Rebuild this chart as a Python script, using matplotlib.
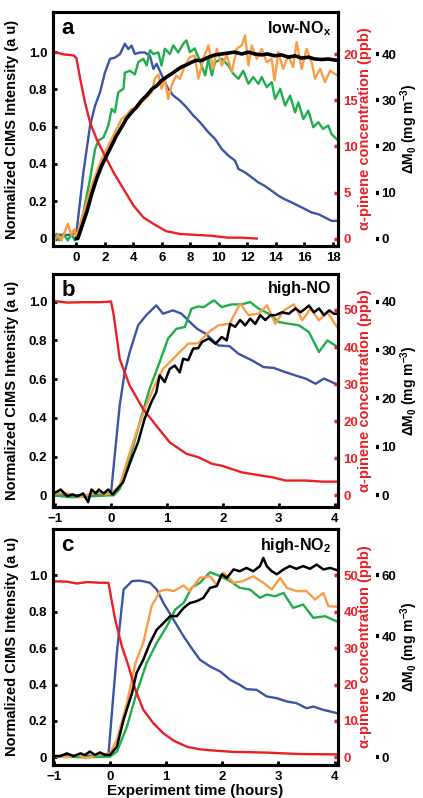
import matplotlib
matplotlib.use("Agg")
import matplotlib.pyplot as plt

plt.rcParams['font.family'] = ['Liberation Sans', 'DejaVu Sans']
plt.rcParams['font.weight'] = 'bold'
plt.rcParams['axes.labelweight'] = 'bold'
plt.rcParams['mathtext.fontset'] = 'custom'
plt.rcParams['mathtext.rm'] = 'Liberation Sans:bold'
plt.rcParams['mathtext.bf'] = 'Liberation Sans:bold'
plt.rcParams['mathtext.it'] = 'Liberation Sans:bold'
plt.rcParams['mathtext.default'] = 'rm'

BLUE = '#3b54a3'
GREEN = '#1fae4b'
ORANGE = '#f99d46'
RED = '#ec2024'

# ---- panel a: low-NOx (time in hours) ----
a_red_t = [-1.6, -0.9, -0.2, 0.0, 0.26, 0.6, 0.96, 1.42, 2.0, 2.6, 3.3, 4.0, 4.7, 5.4, 6.3, 7.26, 8.4, 9.5, 10.6, 11.6, 12.65]
a_red = [20.3, 20.0, 19.9, 19.6, 17.4, 14.8, 12.6, 10.8, 9.0, 7.2, 5.4, 3.6, 2.3, 1.6, 0.8, 0.5, 0.4, 0.3, 0.1, 0.1, 0.0]

a_blue_t = [-1.6, -1.0, -0.5, 0.0, 0.49, 0.96, 1.31, 1.66, 2.0, 2.36, 2.7, 3.06, 3.4, 3.64, 3.87, 4.1, 4.46, 4.8, 5.16, 5.4,
            5.63, 6.1, 6.44, 6.8, 7.26, 7.72, 8.2, 8.6, 9.26, 9.73, 10.2, 10.66, 11.13, 11.37, 11.83, 12.3, 12.77, 13.2,
            13.7, 14.17, 14.6, 15.1, 15.57, 16.04, 16.5, 17.0, 17.44, 17.9, 18.3]
a_blue = [0.02, 0.02, 0.02, 0.03, 0.355, 0.606, 0.713, 0.785, 0.89, 0.964, 0.97, 0.99, 1.045, 1.016, 1.035, 0.99, 0.998,
          0.998, 0.98, 0.91, 0.937, 0.857, 0.803, 0.767, 0.74, 0.704, 0.66, 0.63, 0.57, 0.534, 0.48, 0.445, 0.418, 0.373,
          0.355, 0.328, 0.301, 0.283, 0.256, 0.23, 0.211, 0.194, 0.176, 0.158, 0.14, 0.13, 0.113, 0.095, 0.095]

a_green_t = [-1.6, -1.36, -1.2, -0.9, -0.6, -0.35, -0.1, 0.14, 0.49, 0.96, 1.31, 1.54, 1.9, 2.24, 2.47, 2.7, 2.94, 3.3,
             3.4, 3.76, 4.1, 4.34, 4.7, 4.93, 5.16, 5.4, 5.75, 5.97, 6.2, 6.56, 6.8, 7.14, 7.5, 7.72, 7.96, 8.3, 8.7,
             9.03, 9.26, 9.5, 9.73, 10.2, 10.66, 11.0, 11.37, 11.7, 12.07, 12.4, 12.77, 13.0, 13.35, 13.7, 13.94, 14.3,
             14.64, 14.99, 15.34, 15.57, 15.92, 16.27, 16.62, 16.97, 17.3, 17.67, 17.9, 18.3]
a_green = [-0.01, 0.025, -0.01, 0.025, -0.01, 0.025, -0.01, 0.03, 0.14, 0.32, 0.48, 0.525, 0.543, 0.606, 0.695, 0.677,
           0.785, 0.803, 0.89, 0.9, 0.88, 0.946, 0.964, 0.928, 1.01, 0.99, 0.998, 0.928, 1.018, 0.99, 1.036, 0.998,
           1.045, 1.063, 1.0, 1.02, 0.946, 0.875, 0.964, 0.875, 0.946, 0.964, 0.928, 0.884, 0.857, 0.9, 0.83, 0.866,
           0.83, 0.866, 0.812, 0.839, 0.749, 0.803, 0.713, 0.767, 0.677, 0.731, 0.641, 0.686, 0.597, 0.624, 0.588,
           0.606, 0.56, 0.53]

a_orange_t = [-1.6, -1.3, -1.05, -0.8, -0.6, -0.35, -0.15, 0.0, 0.37, 0.72, 1.07, 1.42, 1.77, 2.12, 2.47, 2.82, 3.17,
              3.5, 3.87, 4.2, 4.57, 4.93, 5.28, 5.5, 5.75, 5.97, 6.2, 6.44, 6.68, 7.0, 7.26, 7.6, 7.96, 8.3, 8.56, 8.9,
              9.26, 9.6, 9.85, 10.2, 10.55, 10.9, 11.25, 11.6, 11.83, 12.07, 12.3, 12.65, 13.0, 13.35, 13.7, 13.9,
              14.17, 14.5, 14.87, 15.2, 15.45, 15.8, 16.15, 16.5, 16.74, 17.1, 17.44, 17.8, 18.3]
a_orange = [-0.02, 0.02, -0.01, 0.04, 0.08, 0.02, 0.05, 0.01, 0.104, 0.194, 0.283, 0.355, 0.426, 0.48, 0.534, 0.588,
            0.641, 0.66, 0.695, 0.695, 0.731, 0.758, 0.785, 0.857, 0.88, 0.803, 0.857, 0.749, 0.82, 0.875, 0.857,
            0.928, 0.973, 0.982, 0.857, 0.964, 1.036, 0.91, 1.018, 0.928, 0.982, 0.893, 1.018, 1.036, 1.09, 0.928,
            1.036, 0.964, 1.018, 0.946, 0.964, 0.848, 1.0, 0.91, 0.982, 0.92, 1.054, 0.91, 1.018, 0.946, 0.857, 0.91,
            0.839, 0.9, 0.875]

a_mass_t = [0.0, 0.1, 0.72, 1.07, 1.42, 1.77, 2.12, 2.47, 2.82, 3.17, 3.5, 3.87, 4.2, 4.57, 4.93, 5.28, 5.63, 5.97,
            6.32, 6.68, 7.0, 7.38, 7.72, 8.07, 8.4, 8.8, 9.26, 9.73, 10.2, 10.66, 11.1, 11.6, 12.07, 12.5, 13.0, 13.4,
            13.9, 14.4, 14.87, 15.34, 15.8, 16.27, 16.74, 17.2, 17.67, 18.3]
a_mass = [0, 0, 5.7, 9.6, 13.0, 15.8, 18.0, 20.2, 22.4, 24.2, 26.0, 27.4, 28.5, 30.0, 31.1, 32.4, 33.2, 34.3, 35.1,
          35.8, 36.5, 37.3, 37.7, 38.3, 38.7, 38.7, 39.4, 39.9, 40.1, 40.3, 40.5, 40.1, 40.5, 40.1, 39.9, 40.1, 39.7,
          39.9, 39.4, 39.7, 39.2, 39.4, 39.0, 38.9, 39.0, 38.7]

# ---- panel b: high-NO ----
b_red_t = [-1.05, -0.79, -0.49, -0.2, 0.0, 0.05, 0.155, 0.335, 0.574, 0.81, 1.05, 1.35, 1.56, 1.81, 1.98, 2.34, 2.7,
           2.88, 3.12, 3.48, 3.78, 4.1]
b_red = [52.5, 52.0, 52.1, 52.1, 52.3, 48.5, 36.8, 29.6, 23.3, 18.8, 14.3, 11.2, 10.3, 8.5, 8.0, 6.2, 5.3, 4.9, 4.0,
         4.0, 3.7, 3.7]

b_blue_t = [-1.05, -0.5, 0.0, 0.066, 0.155, 0.245, 0.335, 0.485, 0.63, 0.81, 0.93, 1.11, 1.26, 1.41, 1.54, 1.69, 1.92,
            2.12, 2.28, 2.52, 2.73, 2.91, 3.12, 3.3, 3.48, 3.66, 3.81, 4.1]
b_blue = [0.0, 0.0, 0.01, 0.205, 0.464, 0.636, 0.74, 0.878, 0.93, 0.981, 0.938, 0.955, 0.938, 0.895, 0.86, 0.835,
          0.774, 0.77, 0.731, 0.697, 0.662, 0.658, 0.636, 0.619, 0.603, 0.576, 0.603, 0.565]

b_green_t = [-1.05, -0.7, -0.4, 0.0, 0.05, 0.155, 0.335, 0.515, 0.69, 0.87, 1.02, 1.17, 1.32, 1.44, 1.56, 1.66, 1.84,
             1.98, 2.16, 2.34, 2.49, 2.64, 2.82, 3.0, 3.18, 3.36, 3.54, 3.72, 3.87, 4.1]
b_green = [0.0, -0.01, -0.005, 0.0, 0.0, 0.033, 0.188, 0.378, 0.55, 0.688, 0.809, 0.86, 0.869, 0.964, 0.975, 0.972,
           1.007, 0.972, 0.986, 0.986, 0.998, 0.964, 0.938, 0.895, 0.886, 0.878, 0.843, 0.74, 0.8, 0.757]

b_orange_t = [-1.05, -0.86, -0.7, -0.56, -0.39, -0.24, -0.09, 0.0, 0.155, 0.3, 0.455, 0.63, 0.78, 0.93, 1.08, 1.23,
              1.38, 1.56, 1.75, 1.92, 2.12, 2.31, 2.46, 2.64, 2.79, 2.94, 3.09, 3.27, 3.42, 3.57, 3.72, 3.87, 4.1]
b_orange = [0.005, 0.013, 0.005, -0.01, 0.005, 0.013, 0.005, 0.01, 0.05, 0.188, 0.326, 0.464, 0.567, 0.653, 0.696,
            0.74, 0.783, 0.785, 0.843, 0.878, 0.886, 0.99, 0.93, 0.938, 0.981, 0.886, 0.955, 0.986, 0.904, 0.964,
            0.904, 0.946, 0.843]

b_mass_t = [-1.05, -0.9, -0.78, -0.69, -0.6, -0.5, -0.41, -0.35, -0.27, -0.22, -0.13, -0.05, 0.03, 0.215, 0.365, 0.485,
            0.6, 0.72, 0.81, 0.87, 0.96, 1.05, 1.14, 1.23, 1.29, 1.38, 1.47, 1.56, 1.63, 1.75, 1.87, 1.98, 2.07, 2.13,
            2.22, 2.31, 2.4, 2.49, 2.58, 2.67, 2.76, 2.85, 2.94, 3.06, 3.18, 3.3, 3.39, 3.48, 3.54, 3.63, 3.72, 3.81,
            3.9, 3.99, 4.1]
b_mass = [0.2, 1.2, -0.2, 0.2, -0.2, 0.4, -1.4, 1.2, 0.4, 1.2, 0.4, 1.2, 0.2, 2.7, 7.5, 11.0, 15.8, 19.2, 21.3, 24.8,
          23.4, 26.1, 26.8, 25.4, 28.2, 27.9, 30.3, 30.4, 31.7, 32.4, 31.3, 32.7, 32.0, 35.4, 34.8, 36.2, 35.1, 36.5,
          35.4, 37.2, 36.2, 37.2, 37.2, 37.8, 37.5, 38.6, 37.8, 38.6, 39.2, 37.8, 38.6, 37.2, 38.2, 37.5, 37.5]

# ---- panel c: high-NO2 ----
c_red_t = [-1.02, -0.77, -0.59, -0.41, -0.18, -0.03, 0.09, 0.21, 0.33, 0.45, 0.59, 0.77, 0.95, 1.13, 1.37, 1.6, 1.9,
           2.2, 2.79, 3.38, 4.1]
c_red = [48.4, 48.3, 47.8, 48.2, 48.0, 48.0, 37.9, 30.5, 25.0, 18.6, 13.1, 9.4, 6.6, 4.6, 2.9, 2.2, 1.8, 1.5, 1.3, 0.9,
         0.8]

c_blue_t = [-1.02, -0.5, -0.03, 0.12, 0.24, 0.39, 0.53, 0.71, 0.83, 0.95, 1.13, 1.31, 1.45, 1.6, 1.78, 1.96, 2.14,
            2.31, 2.43, 2.61, 2.79, 2.97, 3.15, 3.32, 3.5, 3.62, 3.8, 4.1]
c_blue = [0.007, 0.007, 0.013, 0.574, 0.923, 0.969, 0.972, 0.96, 0.923, 0.849, 0.757, 0.665, 0.601, 0.537, 0.5,
          0.472, 0.426, 0.399, 0.375, 0.371, 0.335, 0.325, 0.307, 0.298, 0.27, 0.279, 0.261, 0.239]

c_green_t = [-1.02, -0.5, 0.0, 0.12, 0.3, 0.47, 0.65, 0.83, 1.01, 1.16, 1.31, 1.45, 1.6, 1.78, 1.96, 2.14, 2.31, 2.49,
             2.67, 2.79, 2.94, 3.09, 3.26, 3.44, 3.62, 3.83, 4.1]
c_green = [0.007, 0.0, 0.004, 0.031, 0.169, 0.353, 0.518, 0.629, 0.72, 0.8125, 0.849, 0.932, 0.96, 1.018, 0.996,
           0.969, 0.932, 0.923, 0.877, 0.895, 0.886, 0.904, 0.822, 0.84, 0.767, 0.776, 0.739]

c_orange_t = [-1.02, -0.77, -0.59, -0.42, -0.24, 0.0, 0.12, 0.3, 0.45, 0.59, 0.74, 0.89, 1.01, 1.13, 1.31, 1.42, 1.6,
              1.78, 1.9, 2.02, 2.2, 2.37, 2.55, 2.73, 2.88, 3.03, 3.15, 3.32, 3.5, 3.65, 3.8, 3.89, 4.1]
c_orange = [0.007, 0.0, 0.013, -0.005, 0.013, 0.022, 0.096, 0.298, 0.518, 0.629, 0.831, 0.914, 0.923, 0.914, 0.945,
            0.914, 0.987, 0.996, 0.945, 1.015, 0.96, 0.969, 0.996, 0.96, 0.923, 0.987, 0.932, 0.914, 0.914, 0.868,
            0.904, 0.831, 0.827]

c_mass_t = [-1.02, -0.89, -0.77, -0.65, -0.53, -0.45, -0.36, -0.27, -0.18, -0.09, 0.0, 0.12, 0.24, 0.39, 0.47, 0.59,
            0.71, 0.83, 0.95, 1.07, 1.19, 1.31, 1.42, 1.54, 1.66, 1.78, 1.9, 1.99, 2.08, 2.2, 2.31, 2.43, 2.55, 2.67,
            2.73, 2.79, 2.88, 2.97, 3.09, 3.2, 3.32, 3.44, 3.56, 3.68, 3.8, 3.92, 4.1]
c_mass = [0.4, 0.4, 1.3, 0.4, 1.3, 0.8, 1.9, 0.8, 1.6, 0.8, 0.8, 3.5, 12.4, 21.2, 27.8, 32.2, 37.7, 42.1, 44.3, 46.6,
          46.6, 49.3, 50.9, 51.5, 52.6, 55.9, 56.5, 60.4, 59.2, 62.0, 61.4, 62.5, 61.4, 63.1, 65.8, 63.1, 61.4, 60.4,
          62.0, 63.1, 62.2, 63.1, 62.2, 63.6, 62.0, 62.5, 61.4]

left_ticks = [0, 0.2, 0.4, 0.6, 0.8, 1.0]
left_labels = ['0', '0.2', '0.4', '0.6', '0.8', '1.0']

fig = plt.figure(figsize=(4.23, 7.98), dpi=100)


def panel(rect, letter, cond, xlim, ylim, xticks, red_k, red_ticks, mass_k, mass_ticks,
          red, blue, green, orange, mass, mass_lw=1.8):
    ax = fig.add_axes(rect)
    ax.plot(blue[0], blue[1], color=BLUE, lw=1.7)
    ax.plot(green[0], green[1], color=GREEN, lw=1.7)
    ax.plot(orange[0], orange[1], color=ORANGE, lw=1.7)
    ax.set_xlim(xlim)
    ax.set_ylim(ylim)
    ax.set_xticks(xticks)
    ax.set_yticks(left_ticks)
    ax.set_yticklabels(left_labels)
    ax.tick_params(direction='in', length=3, width=2, labelsize=9.5, pad=4)
    for s in ax.spines.values():
        s.set_linewidth(2.2)
    ax.set_ylabel('Normalized CIMS Intensity (a u)', fontsize=10.5)
    ax.yaxis.set_label_coords(-0.118, 0.5)
    ax.text(0.03, 0.975, letter, transform=ax.transAxes, fontsize=16, va='top', ha='left')
    ax.text(0.975, 0.97, cond, transform=ax.transAxes, fontsize=11.5, va='top', ha='right')

    axr = ax.twinx()
    axr.plot(red[0], red[1], color=RED, lw=1.7)
    axr.set_ylim(ylim[0] * red_k, ylim[1] * red_k)
    axr.set_yticks(red_ticks)
    axr.tick_params(axis='y', direction='in', length=3, width=2.5, colors=RED, labelsize=9.5, pad=4)
    for s in axr.spines.values():
        s.set_linewidth(2.2)
    axr.set_ylabel('α-pinene concentration (ppb)', color=RED, fontsize=10.5)
    axr.yaxis.set_label_coords(1.07, 0.5)

    axm = ax.twinx()
    axm.plot(mass[0], mass[1], color='black', lw=mass_lw)
    axm.set_ylim(ylim[0] * mass_k, ylim[1] * mass_k)
    axm.set_yticks(mass_ticks)
    axm.spines['right'].set_position(('axes', 1.135))
    for side in ['left', 'right', 'top', 'bottom']:
        axm.spines[side].set_visible(False)
    axm.tick_params(axis='y', direction='out', length=2.5, width=3, labelsize=9.5, pad=1)
    axm.set_ylabel('ΔM$_0$ (mg m$^{-3}$)', fontsize=10)
    axm.yaxis.set_label_coords(1.212, 0.5)
    return ax


panel([0.125, 0.6917, 0.674, 0.293], 'a', 'low-NO$_x$', (-1.65, 18.35), (-0.04, 1.214),
      [0, 2, 4, 6, 8, 10, 12, 14, 16, 18], 20.25, [0, 5, 10, 15, 20], 40.5, [0, 10, 20, 30, 40],
      (a_red_t, a_red), (a_blue_t, a_blue), (a_green_t, a_green), (a_orange_t, a_orange),
      (a_mass_t, a_mass), mass_lw=2.6)

panel([0.125, 0.3647, 0.674, 0.292], 'b', 'high-NO', (-1.04, 4.06), (-0.06, 1.143),
      [-1, 0, 1, 2, 3, 4], 52.25, [0, 10, 20, 30, 40, 50], 40, [0, 10, 20, 30, 40],
      (b_red_t, b_red), (b_blue_t, b_blue), (b_green_t, b_green), (b_orange_t, b_orange),
      (b_mass_t, b_mass))

axc = panel([0.125, 0.0414, 0.674, 0.296], 'c', 'high-NO$_2$', (-1.02, 4.06), (-0.042, 1.257),
            [-1, 0, 1, 2, 3, 4], 50, [0, 10, 20, 30, 40, 50], 60, [0, 20, 40, 60],
            (c_red_t, c_red), (c_blue_t, c_blue), (c_green_t, c_green), (c_orange_t, c_orange),
            (c_mass_t, c_mass))
axc.set_xlabel('Experiment time (hours)', fontsize=11, labelpad=1)

fig.savefig('out.png', dpi=100)
